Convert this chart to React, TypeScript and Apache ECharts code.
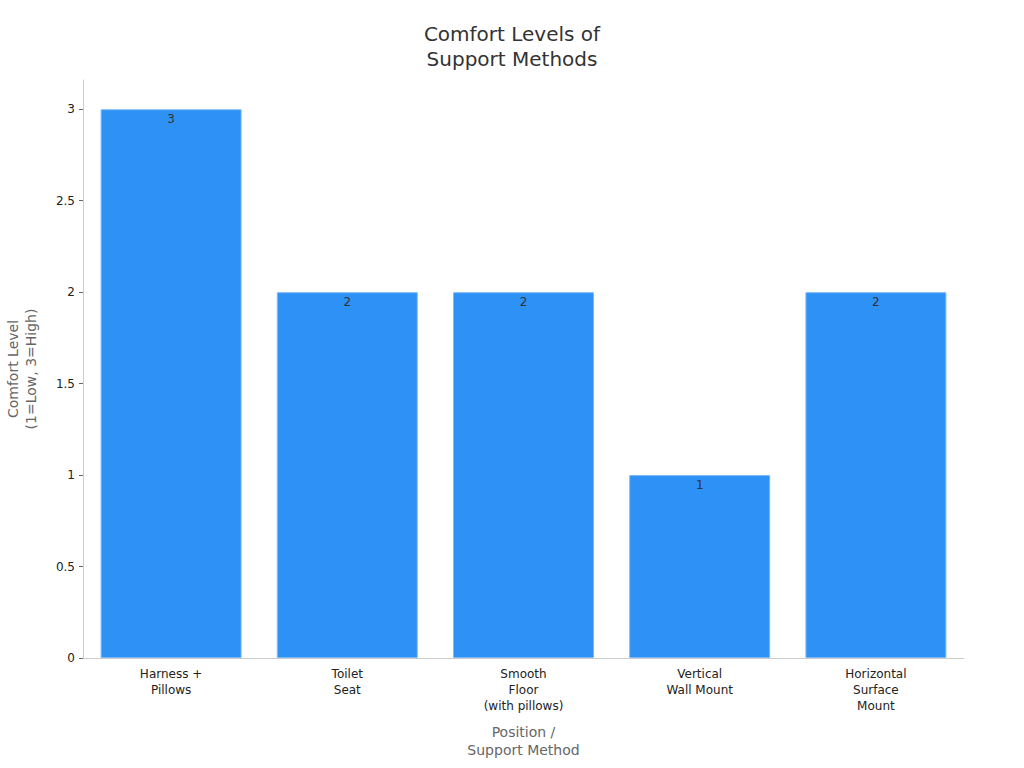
import { useEffect, useRef } from 'react';
import * as echarts from 'echarts';

const categories = [
    'Harness +\nPillows',
    'Toilet\nSeat',
    'Smooth\nFloor\n(with pillows)',
    'Vertical\nWall Mount',
    'Horizontal\nSurface\nMount',
];
const comfortValues = [3, 2, 2, 1, 2];
const yTicks = [0, 0.5, 1, 1.5, 2, 2.5, 3];

const FONT = '"DejaVu Sans", sans-serif';

export default function App() {
    const chartRef = useRef<HTMLDivElement>(null);

    useEffect(() => {
        if (!chartRef.current) return;
        document.body.style.margin = '0';
        const chart = echarts.init(chartRef.current, null, { renderer: 'svg' });

        chart.setOption({
            animation: false,
            textStyle: { fontFamily: FONT },
            title: {
                text: 'Comfort Levels of\nSupport Methods',
                left: 'center',
                top: 16,
                textStyle: {
                    fontFamily: FONT,
                    fontSize: 20,
                    fontWeight: 'normal',
                    color: '#333',
                    lineHeight: 25,
                },
            },
            grid: { left: 83, right: 60, top: 80, bottom: 110, outerBoundsMode: 'none', containLabel: false },
            xAxis: {
                type: 'category',
                data: categories,
                name: 'Position /\nSupport Method',
                nameLocation: 'middle',
                nameGap: 65,
                nameTextStyle: { fontFamily: FONT, fontSize: 14, color: '#666', lineHeight: 18 },
                axisLine: { lineStyle: { color: '#ccc' } },
                axisTick: { alignWithLabel: true, length: 4, lineStyle: { color: '#666' } },
                axisLabel: { fontFamily: FONT, fontSize: 12, color: '#222', lineHeight: 16, margin: 8 },
            },
            yAxis: {
                type: 'value',
                min: 0,
                max: 3.16,
                name: 'Comfort Level\n(1=Low, 3=High)',
                nameLocation: 'middle',
                nameGap: 43,
                nameTextStyle: { fontFamily: FONT, fontSize: 14, color: '#666', lineHeight: 18 },
                axisLine: { show: true, lineStyle: { color: '#ccc' } },
                axisTick: { show: true, length: 4, lineStyle: { color: '#666' }, customValues: yTicks },
                axisLabel: { fontFamily: FONT, fontSize: 12, color: '#222', margin: 8, customValues: yTicks },
                splitLine: { show: false },
            },
            series: [
                {
                    type: 'bar',
                    data: comfortValues,
                    barCategoryGap: '20%',
                    itemStyle: { color: '#2e91f5', borderColor: '#7ab8f7', borderWidth: 1 },
                    label: {
                        show: true,
                        position: 'insideTop',
                        distance: 4,
                        fontFamily: FONT,
                        fontSize: 12,
                        color: '#333',
                    },
                },
            ],
        });

        return () => chart.dispose();
    }, []);

    return <div ref={chartRef} style={{ width: 1024, height: 768 }} />;
}
